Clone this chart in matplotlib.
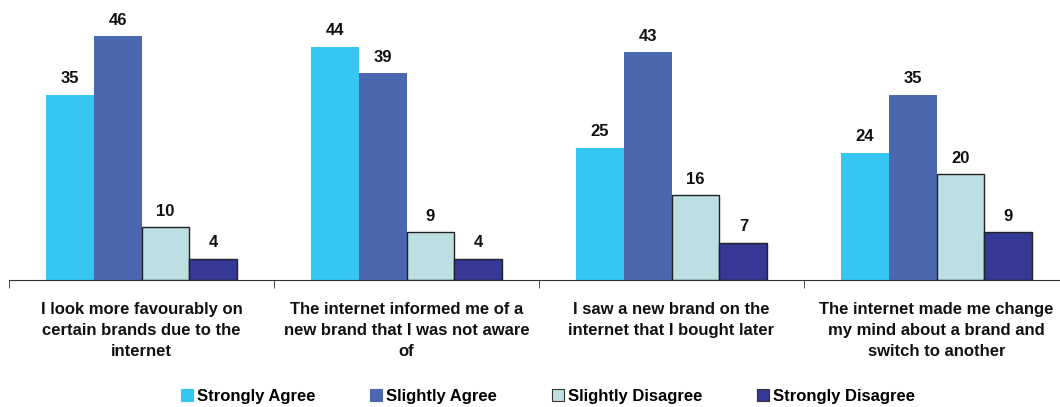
import numpy as np
import matplotlib.pyplot as plt
from matplotlib.patches import Patch

plt.rcParams['font.family'] = ['Liberation Sans', 'DejaVu Sans']
plt.rcParams['font.weight'] = 'bold'

statements = [
    "I look more favourably on\ncertain brands due to the\ninternet",
    "The internet informed me of a\nnew brand that I was not aware\nof",
    "I saw a new brand on the\ninternet that I bought later",
    "The internet made me change\nmy mind about a brand and\nswitch to another",
]
series_names = ["Strongly Agree", "Slightly Agree", "Slightly Disagree", "Strongly Disagree"]
strongly_agree = [35, 44, 25, 24]
slightly_agree = [46, 39, 43, 35]
slightly_disagree = [10, 9, 16, 20]
strongly_disagree = [4, 4, 7, 9]

colors = ['#35C6F2', '#4A67B0', '#BCDFE3', '#363896']
edges = ['none', 'none', '#222222', '#222222']

fig = plt.figure(figsize=(10.6, 4.07), dpi=100)
# four groups of 265 px each; the last group runs a little past the right edge
ax = fig.add_axes([9 / 1060, 1 - 280 / 407, 1060 / 1060, 265 / 407])

x = np.arange(len(statements))
w = 0.181
all_series = [strongly_agree, slightly_agree, slightly_disagree, strongly_disagree]
for i, vals in enumerate(all_series):
    pos = x + (i - 1.5) * w
    ax.bar(pos, vals, width=w, color=colors[i], edgecolor=edges[i],
           linewidth=1.0 if edges[i] != 'none' else 0)
    for px, v in zip(pos, vals):
        ax.text(px, v + 1.6, str(v), ha='center', va='bottom',
                fontsize=12, fontweight='bold', color='#111111')

ax.set_xlim(-0.5, len(statements) - 0.5)
ax.set_ylim(0, 50)
for s in ['top', 'right', 'left']:
    ax.spines[s].set_visible(False)
ax.spines['bottom'].set_color('#333333')
ax.set_yticks([])
ax.set_xticks(x)
ax.set_xticklabels(statements, fontsize=12, fontweight='bold', color='#111111',
                   linespacing=1.5)
ax.tick_params(axis='x', which='major', length=0, pad=15.5)
ax.set_xticks(np.arange(-0.5, len(statements), 1.0), minor=True)
ax.tick_params(axis='x', which='minor', length=6, color='#333333')

handles = [Patch(facecolor=colors[i], edgecolor='#333333' if i >= 2 else colors[i],
                 linewidth=0.8) for i in range(4)]
fig.legend(handles, series_names, loc='center', bbox_to_anchor=(548 / 1060, 1 - 396 / 407),
           ncol=4, frameon=False, handlelength=0.7, handleheight=0.7,
           handletextpad=0.25, columnspacing=3.3, borderpad=0,
           prop={'weight': 'bold', 'size': 12})

fig.savefig('out.png', dpi=100)
